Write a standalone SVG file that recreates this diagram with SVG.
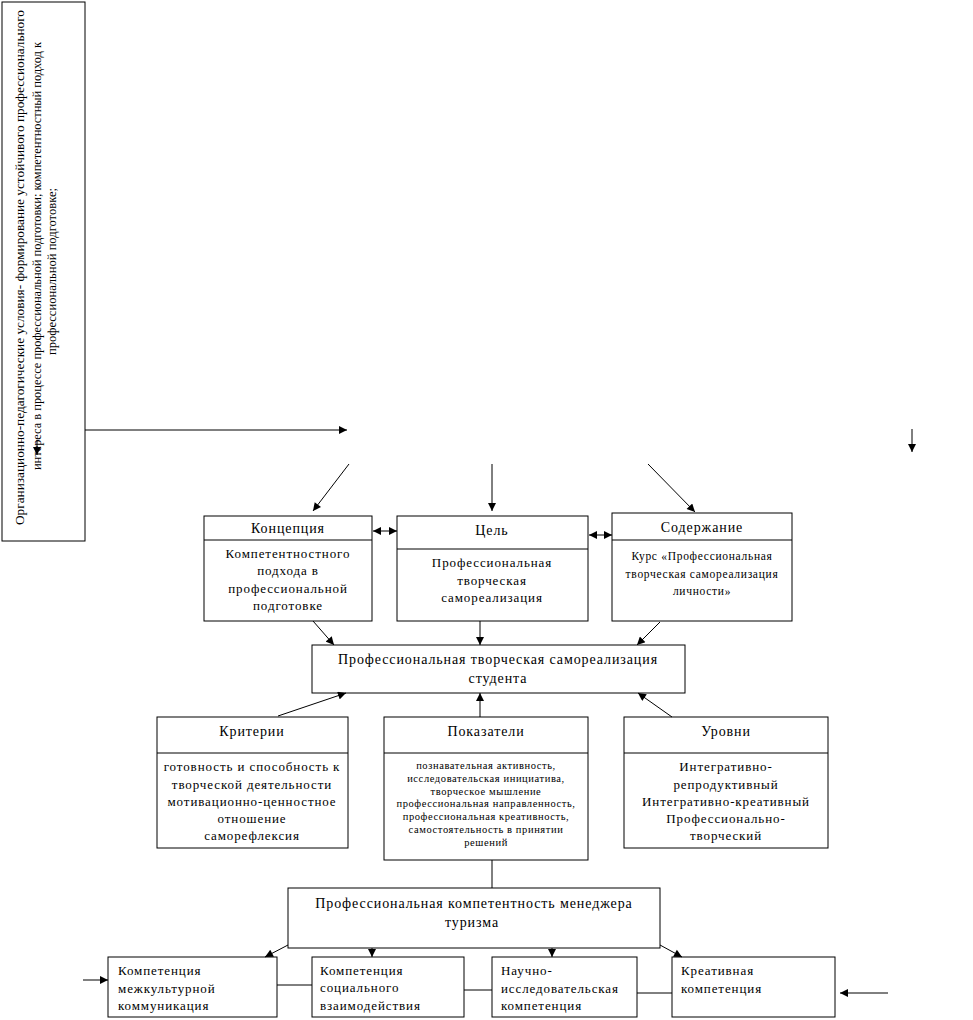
<svg xmlns="http://www.w3.org/2000/svg" width="973" height="1020" viewBox="0 0 973 1020">
<style>
  .box { fill: #ffffff; stroke: #000000; stroke-width: 1; }
  .div { stroke: #000000; stroke-width: 1; }
  .ln { stroke: #000000; stroke-width: 1; fill: none; }
  .t { font-family: "Liberation Serif", "DejaVu Serif", serif; fill: #000000; }
  .h { font-size: 14px; letter-spacing: 0.9px; text-anchor: middle; }
  .b { font-size: 13px; letter-spacing: 0.9px; text-anchor: middle; }
  .s { font-size: 11.5px; letter-spacing: 0.7px; text-anchor: middle; }
  .xs { font-size: 10.5px; letter-spacing: 0.6px; text-anchor: middle; }
  .l { font-size: 13px; letter-spacing: 0.9px; }
  .v { font-size: 12px; }
</style>
<defs>
  <marker id="ah" viewBox="0 0 10 10" refX="10" refY="5" markerWidth="9" markerHeight="8" markerUnits="userSpaceOnUse" orient="auto">
    <path d="M0,0 L10,5 L0,10 z" fill="#000"/>
  </marker>
  <marker id="as" viewBox="0 0 10 10" refX="0" refY="5" markerWidth="9" markerHeight="8" markerUnits="userSpaceOnUse" orient="auto">
    <path d="M10,0 L0,5 L10,10 z" fill="#000"/>
  </marker>
</defs>

<g id="conditions">
  <rect class="box" x="2" y="2" width="83" height="539"/>
  <text class="t v" transform="translate(24,525) rotate(-90)" textLength="515" lengthAdjust="spacingAndGlyphs">Организационно-педагогические условия- формирование устойчивого профессионального</text>
  <text class="t v" transform="translate(41,470) rotate(-90)" textLength="428" lengthAdjust="spacingAndGlyphs">интереса в процессе профессиональной подготовки; компетентностный подход к</text>
  <text class="t v" transform="translate(56,355) rotate(-90)" textLength="167" lengthAdjust="spacingAndGlyphs">профессиональной подготовке;</text>
</g>

<g id="concept">
  <rect class="box" x="204" y="516" width="168" height="105"/>
  <line class="div" x1="204" y1="540" x2="372" y2="540"/>
  <text class="t h" x="288" y="533">Концепция</text>
  <text class="t b" x="288" y="558">Компетентностного</text>
  <text class="t b" x="288" y="575">подхода в</text>
  <text class="t b" x="288" y="593">профессиональной</text>
  <text class="t b" x="288" y="610">подготовке</text>
</g>

<g id="goal">
  <rect class="box" x="397" y="516" width="191" height="105"/>
  <line class="div" x1="397" y1="549" x2="588" y2="549"/>
  <text class="t h" x="492" y="535">Цель</text>
  <text class="t b" x="492" y="567">Профессиональная</text>
  <text class="t b" x="492" y="585">творческая</text>
  <text class="t b" x="492" y="602">самореализация</text>
</g>

<g id="content">
  <rect class="box" x="612" y="513" width="180" height="108"/>
  <line class="div" x1="612" y1="540" x2="792" y2="540"/>
  <text class="t h" x="702" y="532">Содержание</text>
  <text class="t s" x="702" y="560">Курс «Профессиональная</text>
  <text class="t s" x="702" y="578">творческая самореализация</text>
  <text class="t s" x="702" y="595">личности»</text>
</g>

<g id="selfrealization">
  <rect class="box" x="312" y="645" width="373" height="48"/>
  <text class="t h" x="498" y="664">Профессиональная творческая самореализация</text>
  <text class="t h" x="498" y="683">студента</text>
</g>

<g id="criteria">
  <rect class="box" x="157" y="717" width="191" height="131"/>
  <line class="div" x1="157" y1="753" x2="348" y2="753"/>
  <text class="t h" x="252" y="736">Критерии</text>
  <text class="t b" x="252" y="771">готовность и способность к</text>
  <text class="t b" x="252" y="789">творческой деятельности</text>
  <text class="t b" x="252" y="806">мотивационно-ценностное</text>
  <text class="t b" x="252" y="823">отношение</text>
  <text class="t b" x="252" y="840">саморефлексия</text>
</g>

<g id="indicators">
  <rect class="box" x="384" y="717" width="204" height="143"/>
  <line class="div" x1="384" y1="753" x2="588" y2="753"/>
  <text class="t h" x="486" y="736">Показатели</text>
  <text class="t xs" x="486" y="769">познавательная активность,</text>
  <text class="t xs" x="486" y="782">исследовательская инициатива,</text>
  <text class="t xs" x="486" y="795">творческое мышление</text>
  <text class="t xs" x="486" y="807">профессиональная направленность,</text>
  <text class="t xs" x="486" y="820">профессиональная креативность,</text>
  <text class="t xs" x="486" y="833">самостоятельность в принятии</text>
  <text class="t xs" x="486" y="846">решений</text>
</g>

<g id="levels">
  <rect class="box" x="624" y="717" width="204" height="131"/>
  <line class="div" x1="624" y1="753" x2="828" y2="753"/>
  <text class="t h" x="726" y="736">Уровни</text>
  <text class="t b" x="726" y="771">Интегративно-</text>
  <text class="t b" x="726" y="789">репродуктивный</text>
  <text class="t b" x="726" y="806">Интегративно-креативный</text>
  <text class="t b" x="726" y="823">Профессионально-</text>
  <text class="t b" x="726" y="840">творческий</text>
</g>

<g id="competence">
  <rect class="box" x="288" y="888" width="372" height="60"/>
  <text class="t h" x="474" y="908">Профессиональная компетентность менеджера</text>
  <text class="t h" x="472" y="927">туризма</text>
</g>

<g id="comp1">
  <rect class="box" x="108" y="957" width="169" height="60"/>
  <text class="t l" x="118" y="975">Компетенция</text>
  <text class="t l" x="118" y="993">межкультурной</text>
  <text class="t l" x="118" y="1010">коммуникация</text>
</g>

<g id="comp2">
  <rect class="box" x="312" y="957" width="152" height="60"/>
  <text class="t l" x="320" y="975">Компетенция</text>
  <text class="t l" x="320" y="992">социального</text>
  <text class="t l" x="320" y="1010">взаимодействия</text>
</g>

<g id="comp3">
  <rect class="box" x="492" y="957" width="145" height="60"/>
  <text class="t l" x="501" y="975">Научно-</text>
  <text class="t l" x="501" y="993">исследовательская</text>
  <text class="t l" x="501" y="1010">компетенция</text>
</g>

<g id="comp4">
  <rect class="box" x="672" y="957" width="163" height="60"/>
  <text class="t l" x="681" y="975">Креативная</text>
  <text class="t l" x="681" y="993">компетенция</text>
</g>

<g id="connectors">
  <line class="ln" x1="85" y1="430" x2="347" y2="430" marker-end="url(#ah)"/>
  <line class="ln" x1="37" y1="440" x2="37" y2="455" marker-end="url(#ah)"/>
  <line class="ln" x1="912" y1="429" x2="912" y2="452" marker-end="url(#ah)"/>

  <line class="ln" x1="349" y1="464" x2="313" y2="511" marker-end="url(#ah)"/>
  <line class="ln" x1="492" y1="464" x2="492" y2="511" marker-end="url(#ah)"/>
  <line class="ln" x1="648" y1="464" x2="695" y2="512" marker-end="url(#ah)"/>

  <line class="ln" x1="373" y1="531" x2="397" y2="531" marker-start="url(#as)" marker-end="url(#ah)"/>
  <line class="ln" x1="589" y1="535" x2="612" y2="535" marker-start="url(#as)" marker-end="url(#ah)"/>

  <line class="ln" x1="313" y1="621" x2="334" y2="645" marker-end="url(#ah)"/>
  <line class="ln" x1="480" y1="621" x2="480" y2="645" marker-end="url(#ah)"/>
  <line class="ln" x1="660" y1="622" x2="637" y2="645" marker-end="url(#ah)"/>

  <line class="ln" x1="278" y1="716" x2="346" y2="693" marker-end="url(#ah)"/>
  <line class="ln" x1="480" y1="717" x2="480" y2="693" marker-end="url(#ah)"/>
  <line class="ln" x1="672" y1="717" x2="638" y2="693" marker-end="url(#ah)"/>

  <line class="ln" x1="492" y1="860" x2="492" y2="888"/>

  <line class="ln" x1="288" y1="945" x2="265" y2="957" marker-end="url(#ah)"/>
  <line class="ln" x1="372" y1="948" x2="372" y2="957" marker-end="url(#ah)"/>
  <line class="ln" x1="552" y1="948" x2="552" y2="957" marker-end="url(#ah)"/>
  <line class="ln" x1="660" y1="945" x2="682" y2="957" marker-end="url(#ah)"/>

  <line class="ln" x1="277" y1="985" x2="312" y2="985"/>
  <line class="ln" x1="464" y1="990" x2="492" y2="990"/>
  <line class="ln" x1="637" y1="993" x2="672" y2="993"/>

  <line class="ln" x1="83" y1="980" x2="108" y2="980" marker-end="url(#ah)"/>
  <line class="ln" x1="888" y1="993" x2="840" y2="993" marker-end="url(#ah)"/>
</g>
</svg>
